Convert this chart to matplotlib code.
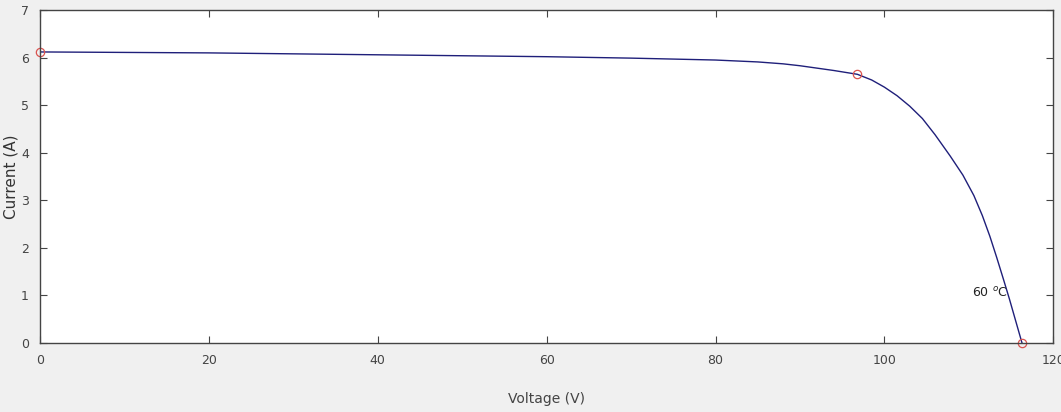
import matplotlib.pyplot as plt

# I-V curve
voltage = [0, 10, 20, 30, 40, 50, 60, 70, 80, 85, 88, 90, 92, 94, 96.8, 98.5,
           100, 101.5, 103, 104.5, 106, 107.8, 109.3, 110.6, 111.6, 112.5,
           113.3, 114.1, 114.8, 115.3, 115.8, 116.3]
current = [6.12, 6.11, 6.10, 6.08, 6.06, 6.04, 6.02, 5.99, 5.95, 5.91, 5.87,
           5.83, 5.78, 5.73, 5.65, 5.53, 5.38, 5.20, 4.98, 4.72, 4.38, 3.93,
           3.53, 3.10, 2.68, 2.24, 1.80, 1.34, 0.93, 0.62, 0.31, 0.0]

# marked points (Isc, MPP, Voc)
mark_v = [0, 96.8, 116.3]
mark_i = [6.12, 5.65, 0.0]

x_ticks = [0, 20, 40, 60, 80, 100, 120]
y_ticks = [0, 1, 2, 3, 4, 5, 6, 7]

tick_font = ["Liberation Sans Narrow", "DejaVu Sans"]

fig = plt.figure(figsize=(10.61, 4.12), dpi=100, facecolor="#f0f0f0")
ax = fig.add_axes([0.0377, 0.1675, 0.955, 0.808])

ax.plot(voltage, current, color="#1f1f7a", linewidth=1.0)
ax.plot(mark_v, mark_i, linestyle="none", marker="o", markersize=6,
        markerfacecolor="none", markeredgecolor="#d9534f", markeredgewidth=0.9,
        clip_on=False)

ax.text(114.6, 1.05, "60 $^{o}$C", fontsize=9, family=tick_font,
        ha="right", va="center", color="#222222")

ax.set_xlim(0, 120)
ax.set_ylim(0, 7)
ax.set_xticks(x_ticks)
ax.set_yticks(y_ticks)
ax.tick_params(direction="in", top=True, right=True, length=5, width=0.8,
               labelsize=9, colors="#444444", pad=8)
for lab in ax.get_xticklabels() + ax.get_yticklabels():
    lab.set_family(tick_font)
    lab.set_color("#444444")

for side in ax.spines.values():
    side.set_color("#444444")
    side.set_linewidth(1.0)

ax.set_xlabel("Voltage (V)", fontsize=10, family=tick_font, color="#444444",
              labelpad=18)
ax.set_ylabel("Current (A)", fontsize=11, color="#333333", labelpad=2)

fig.savefig("out.png", dpi=100, facecolor=fig.get_facecolor())
